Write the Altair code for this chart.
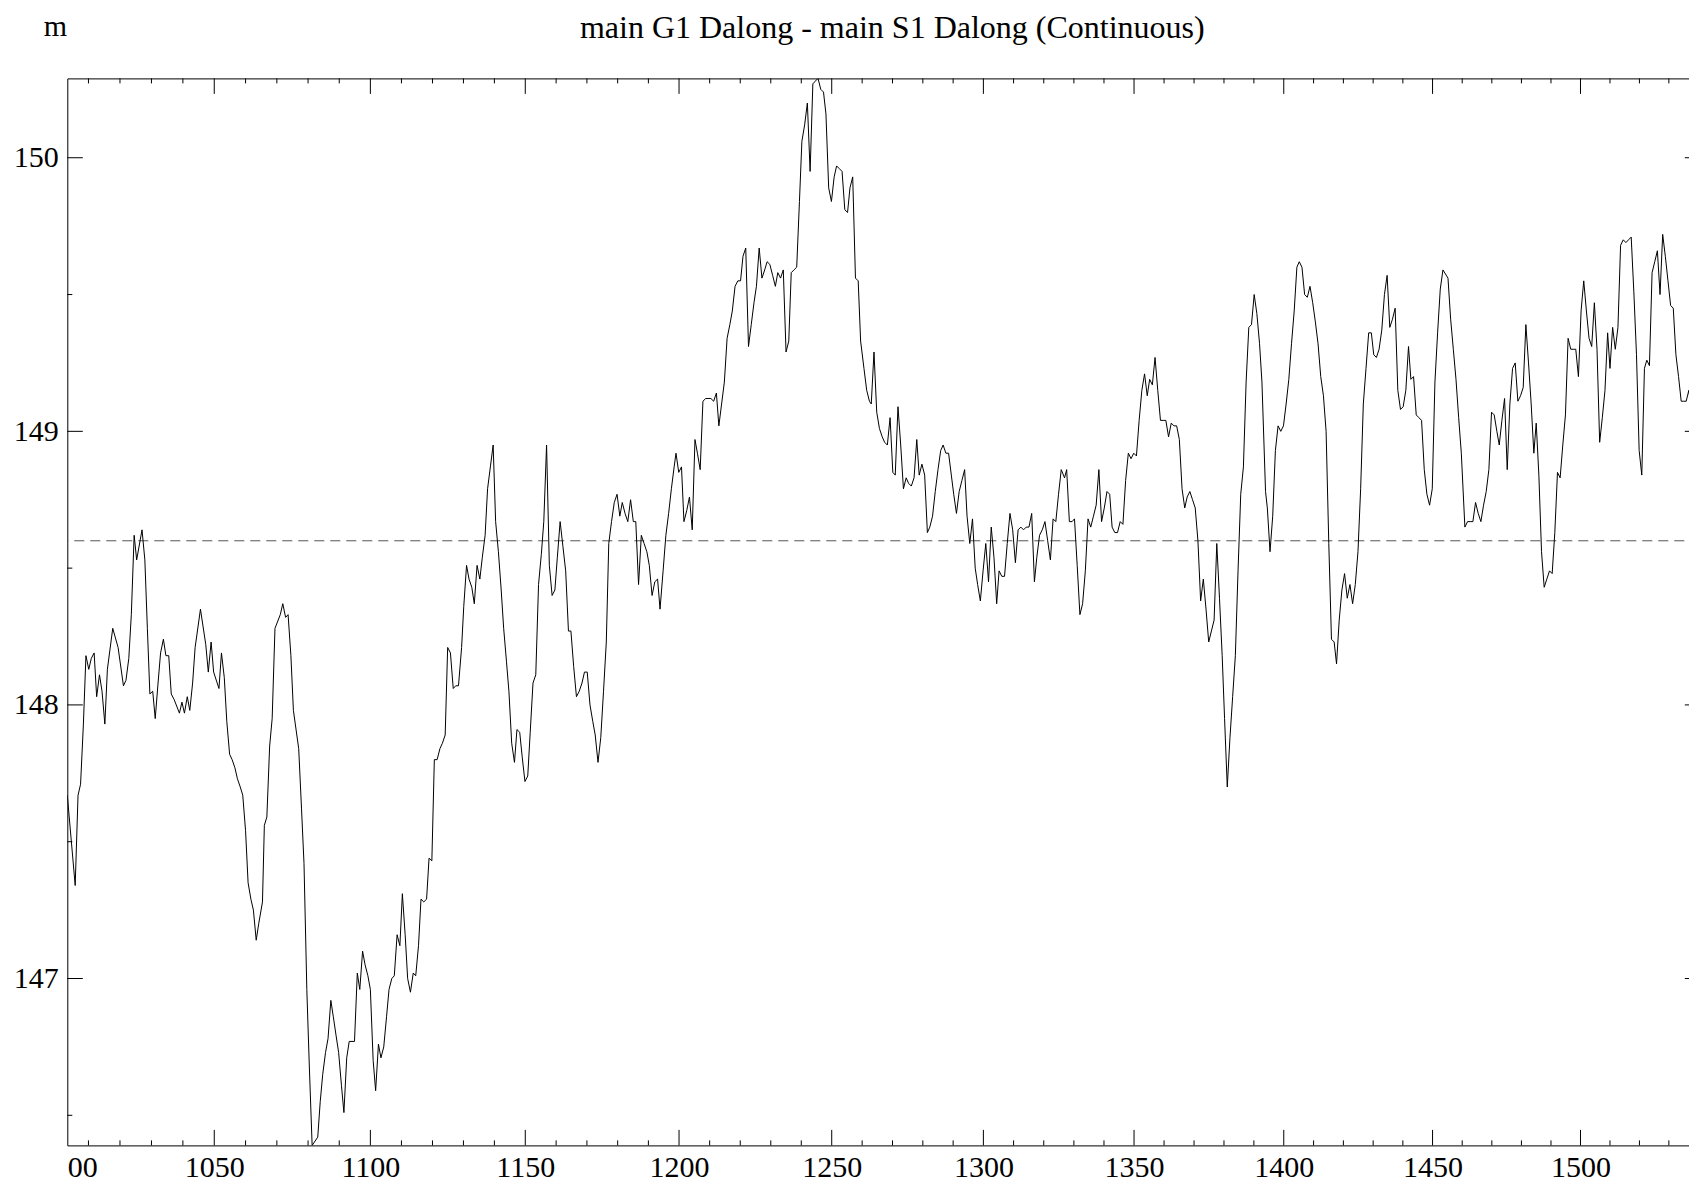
import altair as alt
import pandas as pd

# ---------------- data ----------------
X_POS = [
    1003.3, 1005.8, 1006.7, 1007.5, 1008.4, 1009.2, 1010.1, 1010.9, 1011.8, 1012.6,
    1013.5, 1014.3, 1015.2, 1016.0, 1017.7, 1019.4, 1021.1, 1021.9, 1022.8, 1023.6,
    1024.5, 1025.3, 1027.0, 1027.9, 1028.7, 1029.5, 1030.4, 1031.2, 1032.1, 1032.9,
    1033.8, 1034.6, 1035.5, 1036.3, 1037.2, 1038.9, 1039.7, 1040.5, 1041.4, 1042.2,
    1043.1, 1043.9, 1045.6, 1047.3, 1048.1, 1049.0, 1049.8, 1051.5, 1052.3, 1053.2,
    1054.0, 1054.9, 1055.7, 1056.6, 1057.4, 1058.3, 1059.1, 1060.0, 1060.8, 1061.7,
    1062.5, 1063.4, 1064.2,
    1065.4, 1066.0, 1066.8, 1067.7, 1068.5, 1069.4, 1071.1, 1071.9, 1072.8, 1073.6,
    1074.5, 1075.3, 1077.0, 1077.9, 1078.7, 1079.6, 1080.4, 1081.3, 1083.1, 1083.9,
    1084.7, 1085.6, 1086.4, 1087.3, 1088.1, 1089.0, 1089.8, 1090.7, 1091.5, 1092.4,
    1093.2, 1094.1, 1094.9, 1095.8, 1096.6, 1097.5, 1098.3, 1099.2, 1100.0, 1100.9,
    1101.7, 1102.6, 1103.4, 1104.3, 1105.2, 1106.0, 1106.9, 1107.7, 1108.6, 1109.5,
    1110.3, 1111.2, 1112.0, 1112.9, 1113.8, 1114.6, 1115.5, 1116.3, 1117.2, 1118.1,
    1118.9, 1119.8, 1120.6, 1121.5, 1122.4, 1123.2, 1124.1, 1124.9, 1125.8, 1126.7,
    1127.5, 1128.4,
    1129.4, 1130.1, 1131.0, 1131.8, 1132.7, 1133.5, 1134.4, 1135.3, 1136.1, 1137.0,
    1137.8, 1138.7, 1139.6, 1140.4, 1141.3, 1142.2, 1143.0, 1143.9, 1144.7, 1145.6,
    1146.5, 1147.3, 1148.2, 1149.0, 1149.9, 1150.8, 1151.6, 1152.5, 1153.4, 1154.3,
    1155.2, 1156.0, 1156.9, 1157.8, 1158.7, 1159.6, 1160.4, 1161.3, 1162.2, 1163.1,
    1164.0, 1164.8, 1165.7, 1166.6, 1167.5, 1168.4, 1169.2, 1170.1, 1171.0, 1171.9,
    1172.7, 1173.6, 1174.5, 1175.4, 1176.3, 1177.1, 1178.0, 1178.9, 1179.8, 1180.7,
    1181.5, 1182.4, 1183.3, 1184.2, 1185.1, 1185.9, 1186.8, 1187.7, 1188.6, 1189.5,
    1190.3, 1191.2, 1192.1, 1193.0, 1193.8,
    1194.8, 1195.7, 1196.6, 1197.5, 1198.4, 1199.0, 1199.9, 1200.8, 1201.6, 1202.5,
    1203.4, 1204.3, 1205.2, 1206.0, 1206.9, 1207.8, 1208.7, 1209.5, 1210.4, 1211.3,
    1212.2, 1213.0, 1213.9, 1214.8, 1215.7, 1216.6, 1217.4, 1218.3, 1219.2, 1220.1,
    1220.9, 1221.8, 1222.7, 1223.6, 1224.5, 1225.3, 1226.2, 1227.1, 1228.0, 1228.8,
    1229.7, 1230.6, 1231.5, 1232.3, 1233.2, 1234.1, 1235.0, 1235.9, 1236.7, 1237.6,
    1238.5, 1239.4, 1240.2, 1241.1, 1242.0, 1242.9, 1243.8, 1244.6, 1245.5, 1246.4,
    1247.3, 1248.1, 1249.0, 1249.9, 1250.8, 1251.6, 1252.5, 1253.4, 1254.3, 1255.2,
    1256.0, 1256.9, 1257.8, 1258.7, 1259.5,
    1260.6, 1261.5, 1262.4, 1263.0, 1263.9, 1264.8, 1265.7, 1266.6, 1267.4, 1268.3,
    1269.2, 1270.1, 1270.9, 1271.8, 1272.7, 1273.6, 1274.5, 1275.3, 1276.2, 1277.1,
    1278.0, 1278.8, 1279.7, 1280.6, 1281.5, 1282.3, 1283.2, 1284.1, 1285.0, 1285.9,
    1286.7, 1287.6, 1288.5, 1289.4, 1290.2, 1291.1, 1292.0, 1292.9, 1293.8, 1294.6,
    1295.5, 1296.4, 1297.3, 1298.1, 1299.0, 1299.9, 1300.8, 1301.7, 1302.6, 1303.5,
    1304.4, 1305.2, 1306.1, 1307.0, 1307.9, 1308.8, 1309.7, 1310.6, 1311.5, 1312.4,
    1313.3, 1314.2, 1315.1, 1316.0, 1316.9, 1317.7, 1318.6, 1319.5, 1320.4, 1321.3,
    1322.2, 1323.1, 1324.0, 1324.9, 1325.8,
    1326.9, 1327.6, 1328.5, 1329.4, 1330.2, 1331.1, 1332.0, 1332.9, 1333.8, 1334.7,
    1335.6, 1336.5, 1337.4, 1338.3, 1339.2, 1340.1, 1341.0, 1341.9, 1342.7, 1343.6,
    1344.5, 1345.4, 1346.3, 1347.2, 1348.1, 1349.0, 1349.9, 1350.8, 1351.7, 1352.6,
    1353.5, 1354.4, 1355.2, 1356.1, 1357.0, 1357.9, 1358.8, 1359.7, 1360.6, 1361.5,
    1362.4, 1363.3, 1364.2, 1365.1, 1366.0, 1366.9, 1367.7, 1368.6, 1369.5, 1370.4,
    1371.3, 1372.2, 1373.1, 1374.0, 1374.9, 1375.8, 1376.7, 1377.6, 1378.5, 1379.4,
    1380.2, 1381.1, 1382.0, 1382.9, 1383.8, 1384.7, 1385.6, 1386.5, 1387.4, 1388.3,
    1389.2, 1390.1, 1391.0, 1391.9, 1392.7,
    1393.9, 1394.5, 1395.4, 1396.3, 1397.2, 1398.1, 1399.0, 1399.9, 1400.8, 1401.7,
    1402.6, 1403.5, 1404.4, 1405.2, 1406.1, 1407.0, 1407.9, 1408.8, 1409.7, 1410.6,
    1411.5, 1412.4, 1413.3, 1414.2, 1415.1, 1416.0, 1416.9, 1417.7, 1418.6, 1419.5,
    1420.4, 1421.3, 1422.2, 1423.1, 1424.0, 1424.9, 1425.8, 1426.7, 1427.6, 1428.5,
    1429.4, 1430.2, 1431.1, 1432.0, 1432.9, 1433.8, 1434.7, 1435.6, 1436.5, 1437.4,
    1438.3, 1439.2, 1440.1, 1441.0, 1441.9, 1442.7, 1443.6, 1444.5, 1445.4, 1446.3,
    1447.2, 1448.1, 1449.0, 1449.9, 1450.8, 1451.7, 1452.6, 1453.5, 1455.2, 1456.1,
    1457.0, 1457.9, 1458.8, 1459.7,
    1460.9, 1461.8, 1462.7, 1463.6, 1464.5, 1465.4, 1466.3, 1467.2, 1468.1, 1469.0,
    1469.9, 1470.8, 1471.7, 1472.5, 1473.4, 1474.3, 1475.2, 1476.1, 1477.0, 1477.9,
    1478.8, 1479.7, 1480.6, 1481.5, 1482.4, 1483.3, 1484.2, 1485.0, 1485.9, 1486.8,
    1487.7, 1488.6, 1489.5, 1490.4, 1491.3, 1492.2, 1493.1, 1494.0, 1494.9, 1495.8,
    1496.7, 1497.5, 1498.4, 1499.3, 1500.2, 1501.1, 1502.0, 1502.9, 1503.8, 1504.7,
    1505.6, 1506.5, 1507.4, 1508.3, 1509.2, 1510.0, 1510.9, 1511.8, 1512.7, 1513.6,
    1514.5, 1515.4, 1516.3, 1517.2, 1518.1, 1519.0, 1519.9, 1520.8, 1521.7, 1522.5,
    1523.4, 1524.3, 1525.2, 1526.1, 1527.0, 1527.9, 1528.8, 1529.7, 1530.6, 1531.5,
    1532.4, 1533.3, 1534.2, 1535.0, 1535.9, 1536.8, 1537.7, 1538.6, 1539.4,
]

Y_VAL = [
    147.67, 147.34, 147.67, 147.71, 147.93, 148.18, 148.13, 148.17, 148.19, 148.03,
    148.11, 148.05, 147.93, 148.13, 148.28, 148.21, 148.07, 148.09, 148.17, 148.33,
    148.62, 148.53, 148.64, 148.53, 148.28, 148.04, 148.05, 147.95, 148.08, 148.19,
    148.24, 148.18, 148.18, 148.04, 148.02, 147.97, 148.01, 147.97, 148.03, 147.98,
    148.08, 148.21, 148.35, 148.22, 148.12, 148.23, 148.12, 148.06, 148.19, 148.10,
    147.94, 147.82, 147.80, 147.77, 147.73, 147.70, 147.67, 147.54, 147.35, 147.29,
    147.25, 147.14, 147.20,
    147.28, 147.56, 147.59, 147.85, 147.95, 148.28, 148.33, 148.37, 148.32, 148.33,
    148.18, 147.98, 147.84, 147.62, 147.42, 146.96, 146.68, 146.39, 146.42, 146.55,
    146.65, 146.73, 146.78, 146.92, 146.86, 146.79, 146.73, 146.61, 146.51, 146.71,
    146.77, 146.77, 146.77, 147.02, 146.96, 147.10, 147.05, 147.01, 146.96, 146.70,
    146.59, 146.76, 146.71, 146.75, 146.86, 146.96, 147.00, 147.01, 147.16, 147.12,
    147.31, 147.16, 147.00, 146.95, 147.02, 147.01, 147.12, 147.29, 147.28, 147.29,
    147.44, 147.43, 147.80, 147.80, 147.84, 147.86, 147.89, 148.21, 148.19, 148.06,
    148.07, 148.07,
    148.21, 148.36, 148.51, 148.46, 148.43, 148.37, 148.51, 148.46, 148.54, 148.62,
    148.79, 148.87, 148.95, 148.67, 148.56, 148.42, 148.28, 148.16, 148.05, 147.86,
    147.79, 147.91, 147.90, 147.81, 147.72, 147.74, 147.90, 148.08, 148.11, 148.44,
    148.55, 148.67, 148.95, 148.51, 148.40, 148.42, 148.54, 148.67, 148.58, 148.49,
    148.27, 148.27, 148.14, 148.03, 148.05, 148.08, 148.12, 148.12, 148.00, 147.94,
    147.89, 147.79, 147.88, 148.05, 148.23, 148.59, 148.67, 148.74, 148.77, 148.69,
    148.74, 148.70, 148.67, 148.75, 148.67, 148.67, 148.44, 148.62, 148.59, 148.56,
    148.51, 148.40, 148.45, 148.46, 148.35,
    148.49, 148.62, 148.70, 148.79, 148.87, 148.92, 148.85, 148.87, 148.67, 148.71,
    148.76, 148.64, 148.97, 148.92, 148.86, 149.11, 149.12, 149.12, 149.12, 149.11,
    149.14, 149.02, 149.10, 149.18, 149.34, 149.39, 149.44, 149.53, 149.55, 149.55,
    149.64, 149.67, 149.31, 149.39, 149.47, 149.53, 149.67, 149.56, 149.59, 149.62,
    149.61, 149.57, 149.53, 149.58, 149.56, 149.59, 149.29, 149.33, 149.58, 149.59,
    149.60, 149.84, 150.06, 150.12, 150.20, 149.95, 150.27, 150.28, 150.29, 150.25,
    150.24, 150.16, 149.89, 149.84, 149.93, 149.97, 149.96, 149.95, 149.81, 149.80,
    149.89, 149.93, 149.56, 149.55, 149.33,
    149.23, 149.15, 149.11, 149.10, 149.29, 149.07, 149.01, 148.98, 148.96, 148.95,
    149.05, 148.85, 148.84, 149.09, 148.95, 148.79, 148.83, 148.81, 148.80, 148.83,
    148.97, 148.84, 148.88, 148.84, 148.63, 148.65, 148.69, 148.78, 148.86, 148.93,
    148.95, 148.92, 148.92, 148.84, 148.77, 148.70, 148.78, 148.82, 148.86, 148.69,
    148.59, 148.68, 148.50, 148.44, 148.38, 148.49, 148.59, 148.45, 148.65, 148.54,
    148.37, 148.49, 148.47, 148.47, 148.59, 148.70, 148.64, 148.52, 148.64, 148.65,
    148.64, 148.65, 148.65, 148.70, 148.45, 148.54, 148.62, 148.64, 148.67, 148.60,
    148.53, 148.68, 148.67, 148.77, 148.86,
    148.83, 148.86, 148.67, 148.67, 148.68, 148.51, 148.33, 148.37, 148.49, 148.68,
    148.65, 148.69, 148.73, 148.86, 148.67, 148.72, 148.78, 148.77, 148.65, 148.63,
    148.63, 148.67, 148.66, 148.82, 148.92, 148.90, 148.92, 148.91, 149.04, 149.15,
    149.21, 149.13, 149.19, 149.17, 149.27, 149.15, 149.04, 149.04, 149.04, 148.98,
    149.03, 149.02, 149.02, 148.97, 148.79, 148.72, 148.76, 148.78, 148.75, 148.72,
    148.60, 148.38, 148.46, 148.35, 148.23, 148.27, 148.31, 148.59, 148.39, 148.18,
    147.95, 147.70, 147.88, 148.03, 148.18, 148.49, 148.77, 148.87, 149.18, 149.38,
    149.39, 149.50, 149.43, 149.32, 149.18,
    148.78, 148.72, 148.56, 148.69, 148.93, 149.02, 149.00, 149.02, 149.10, 149.19,
    149.32, 149.44, 149.60, 149.62, 149.60, 149.50, 149.49, 149.53, 149.47, 149.40,
    149.32, 149.20, 149.13, 149.00, 148.59, 148.24, 148.23, 148.15, 148.31, 148.42,
    148.48, 148.39, 148.44, 148.37, 148.44, 148.56, 148.79, 149.10, 149.23, 149.36,
    149.36, 149.28, 149.27, 149.30, 149.37, 149.50, 149.57, 149.38, 149.41, 149.45,
    149.15, 149.08, 149.09, 149.15, 149.31, 149.19, 149.20, 149.06, 149.05, 149.04,
    148.86, 148.77, 148.73, 148.79, 149.18, 149.36, 149.52, 149.59, 149.56, 149.41,
    149.30, 149.19, 149.05, 148.92,
    148.65, 148.67, 148.67, 148.67, 148.74, 148.70, 148.67, 148.73, 148.78, 148.86,
    149.07, 149.06, 149.00, 148.95, 149.04, 149.12, 148.86, 149.10, 149.23, 149.25,
    149.11, 149.13, 149.16, 149.39, 149.25, 149.10, 148.92, 149.03, 148.84, 148.56,
    148.43, 148.46, 148.49, 148.48, 148.63, 148.85, 148.83, 148.95, 149.06, 149.34,
    149.30, 149.30, 149.30, 149.20, 149.44, 149.55, 149.44, 149.34, 149.31, 149.47,
    149.30, 148.96, 149.05, 149.15, 149.36, 149.23, 149.38, 149.30, 149.38, 149.68,
    149.70, 149.69, 149.70, 149.71, 149.51, 149.28, 148.93, 148.84, 149.23, 149.26,
    149.24, 149.58, 149.62, 149.66, 149.50, 149.72, 149.64, 149.55, 149.46, 149.45,
    149.28, 149.20, 149.11, 149.11, 149.11, 149.15, 149.07, 148.96, 149.21,
]

REF_LEVEL = [148.6]

X_DOMAIN = [1003.3, 1540.7]
Y_DOMAIN = [146.39, 150.29]

X_MAJOR = [1050, 1100, 1150, 1200, 1250, 1300, 1350, 1400, 1450, 1500]
X_MINOR = [v for v in range(1010, 1541, 10) if v % 50 != 0]
# the "1000" label sits on the left frame edge; only its right half ("00") shows
X_LABELS = [X_DOMAIN[0]] + X_MAJOR
EDGE_LABEL = "00"
Y_MAJOR = [147, 148, 149, 150]
Y_MINOR = [146.5, 147.5, 148.5, 149.5]

TITLE = "main G1 Dalong - main S1 Dalong (Continuous)"
UNIT = "m"

# ---------------- layout / style ----------------
W, H = 1633, 1067
PAD_L, PAD_T = 59.3, 70.4
SVG_W, SVG_H = 1681, 1175          # keeps the page inside the window
FONT = "Liberation Serif"
MAJOR_LEN, MINOR_LEN = 15.5, 5

xscale = alt.Scale(type="pow", exponent=0.83, domain=X_DOMAIN, nice=False, zero=False)
yscale = alt.Scale(domain=Y_DOMAIN, nice=False, zero=False)

xaxis = alt.Axis(
    values=X_LABELS, format="d", ticks=False, domain=False, grid=False,
    labelExpr=f"datum.value < {X_MAJOR[0] - 40} ? '{EDGE_LABEL}' : datum.label",
    labelAlign={"condition": {"test": f"datum.value < {X_MAJOR[0] - 40}", "value": "left"},
                "value": "center"},
    labelFont=FONT, labelFontSize=30, labelColor="black", labelPadding=30.6,
    labelBaseline="alphabetic", labelFlush=False, labelOverlap=False,
    title=TITLE, titleFont=FONT, titleFontSize=32, titleFontWeight="normal",
    titleColor="black", titleAlign="center", titleBaseline="alphabetic",
    titleX=824.5, titleY=-(PAD_T + H) + 29, titleAngle=0,
)
yaxis = alt.Axis(
    values=Y_MAJOR, format="d", ticks=False, domain=False, grid=False,
    labelFont=FONT, labelFontSize=30, labelColor="black", labelPadding=9,
    title=UNIT, titleFont=FONT, titleFontSize=30, titleFontWeight="normal",
    titleColor="black", titleAngle=0, titleAlign="center",
    titleBaseline="alphabetic", titleX=-12.3, titleY=-(PAD_T - 27),
)

X = alt.X("x:Q", scale=xscale, axis=xaxis)
Y = alt.Y("y:Q", scale=yscale, axis=yaxis)

line = alt.Chart(pd.DataFrame({"x": X_POS, "y": Y_VAL})).mark_line(
    color="black", strokeWidth=1, clip=True
).encode(x=X, y=Y)

ref = alt.Chart(pd.DataFrame({"y": REF_LEVEL})).mark_rule(
    color="#555555", strokeWidth=1, strokeDash=[10, 6]
).encode(y=Y)


def xticks(vals, length, side):
    c = alt.Chart(pd.DataFrame({"x": vals})).mark_rule(color="black", strokeWidth=1)
    if side == "bottom":
        return c.encode(x=X, y=alt.value(H), y2=alt.value(H - length))
    return c.encode(x=X, y=alt.value(0), y2=alt.value(length))


def yticks(vals, length, side):
    c = alt.Chart(pd.DataFrame({"y": vals})).mark_rule(color="black", strokeWidth=1)
    if side == "left":
        return c.encode(y=Y, x=alt.value(0), x2=alt.value(length))
    return c.encode(y=Y, x=alt.value(W), x2=alt.value(W - length))


tick_layers = [
    xticks(X_MAJOR, MAJOR_LEN, "bottom"), xticks(X_MINOR, MINOR_LEN, "bottom"),
    xticks(X_MAJOR, MAJOR_LEN, "top"), xticks(X_MINOR, MINOR_LEN, "top"),
    yticks(Y_MAJOR, MAJOR_LEN, "left"), yticks(Y_MINOR, MINOR_LEN, "left"),
    yticks(Y_MAJOR, MAJOR_LEN, "right"), yticks(Y_MINOR, MINOR_LEN, "right"),
]

chart = alt.layer(ref, line, *tick_layers).properties(
    width=W, height=H,
    padding={"left": PAD_L, "top": PAD_T,
             "right": SVG_W - W - PAD_L, "bottom": SVG_H - H - PAD_T},
    autosize=alt.AutoSizeParams(type="none"),
    background="white",
).configure(font=FONT).configure_axis(
    labelFont=FONT, titleFont=FONT
).configure_view(stroke="black", strokeWidth=1)

chart.save("out.html", embed_options={"renderer": "svg", "actions": False})
